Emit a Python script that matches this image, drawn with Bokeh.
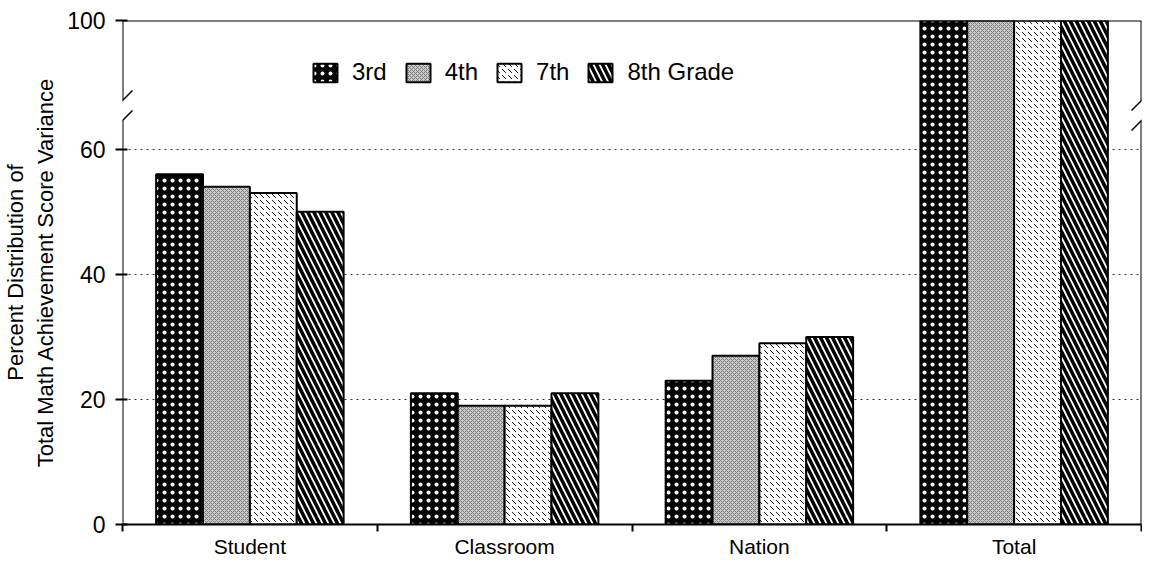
from bokeh.plotting import figure
from bokeh.models import FixedTicker, Legend, LegendItem, Arrow, Range1d
from bokeh.embed import file_html
from bokeh.resources import INLINE

# ---- data ----
categories = ["Student", "Classroom", "Nation", "Total"]
grades = ["3rd", "4th", "7th", "8th Grade"]
grade3 = [56, 21, 23, 100]
grade4 = [54, 19, 27, 100]
grade7 = [53, 19, 29, 100]
grade8 = [50, 21, 30, 100]
y_tick_values = [0, 20, 40, 60, 100]
grid_values = [20, 40, 60]

# ---- broken axis mapping: true scale up to 60, compressed above ----
BREAK_AT = 60
COMPRESS = 20.6 / 40.0


def pos(v):
    return v if v <= BREAK_AT else BREAK_AT + (v - BREAK_AT) * COMPRESS


TOP = pos(100)
GAP_LO, GAP_HI = 64.6, 67.8  # where the break slashes cross the axis
FONT = "Liberation Sans"

p = figure(width=1142, height=560, output_backend="svg", toolbar_location=None,
           x_range=Range1d(0, len(categories)), y_range=Range1d(0, TOP),
           min_border_left=120, min_border_right=1, min_border_top=20,
           min_border_bottom=34)
p.outline_line_color = None
p.background_fill_color = "white"
p.border_fill_color = "white"

series = [grade3, grade4, grade7, grade8]
styles = [
    dict(fill_color="black", hatch_pattern="dot", hatch_color="white",
         hatch_scale=8, hatch_weight=1),
    dict(fill_color="#c8c8c8", hatch_pattern="diagonal_cross", hatch_color="#808080",
         hatch_scale=4, hatch_weight=1),
    dict(fill_color="white", hatch_pattern="left_diagonal_dash", hatch_color="black",
         hatch_scale=6, hatch_weight=1),
    dict(fill_color="white", hatch_pattern="left_diagonal_line", hatch_color="black",
         hatch_scale=12, hatch_weight=3.5),
]
bw = 0.184
renderers = []
for i, (vals, st) in enumerate(zip(series, styles)):
    xs = [j + 0.5 + (i - 1.5) * bw for j in range(len(categories))]
    tops = [pos(v) for v in vals]
    r = p.vbar(x=xs, top=tops, bottom=0, width=bw, line_color="black",
               line_width=2, **st)
    renderers.append(r)

# ---- axes ----
yax = p.yaxis[0]
yax.ticker = FixedTicker(ticks=[pos(v) for v in y_tick_values])
yax.major_label_overrides = {pos(v): str(v) for v in y_tick_values}
yax.minor_tick_line_color = None
yax.major_tick_in = 5
yax.major_tick_out = 7
yax.major_tick_line_width = 2
yax.axis_line_color = None
yax.major_label_standoff = 10
yax.major_label_text_font = FONT
yax.major_label_text_font_size = "23px"
yax.major_label_text_color = "black"
yax.axis_label = "Percent Distribution of\nTotal Math Achievement Score Variance"
yax.axis_label_text_font = FONT
yax.axis_label_text_font_size = "22px"
yax.axis_label_text_font_style = "normal"
yax.axis_label_text_color = "black"
yax.axis_label_standoff = 6

xax = p.xaxis[0]
xax.ticker = FixedTicker(ticks=[j + 0.5 for j in range(len(categories))],
                         minor_ticks=list(range(len(categories) + 1)))
xax.major_label_overrides = {j + 0.5: c for j, c in enumerate(categories)}
xax.major_tick_in = 0
xax.major_tick_out = 0
xax.minor_tick_in = 0
xax.minor_tick_out = 7
xax.minor_tick_line_width = 2
xax.minor_tick_line_color = "black"
xax.axis_line_width = 2
xax.axis_line_color = "black"
xax.major_label_standoff = 3
xax.major_label_text_font = FONT
xax.major_label_text_font_size = "21px"
xax.major_label_text_color = "black"

p.xgrid.grid_line_color = None
p.ygrid.ticker = FixedTicker(ticks=grid_values)
p.ygrid.grid_line_color = "#333333"
p.ygrid.grid_line_dash = "dotted"
p.ygrid.grid_line_width = 1


# ---- frame lines with axis breaks ----
def seg(x0, y0, x1, y1, w=2):
    p.add_layout(Arrow(end=None, x_start=x0, y_start=y0, x_end=x1, y_end=y1,
                       line_color="black", line_width=w))


n = len(categories)
seg(0, 0, 0, GAP_LO)
seg(0, GAP_HI, 0, TOP)
seg(0, TOP, n, TOP)
seg(n, 0, n, GAP_LO)
seg(n, GAP_HI, n, TOP)
dx = 10 * n / 1021.0
dy = 10 * TOP / 506.0
for xc in (0, n):
    for yc in (GAP_LO, GAP_HI):
        seg(xc - dx, yc - dy, xc + dx, yc + dy, 1.5)

# ---- legend ----
legend = Legend(items=[LegendItem(label=g, renderers=[r]) for g, r in zip(grades, renderers)],
                orientation="horizontal", location=(188, 438),
                glyph_width=30, glyph_height=23, label_standoff=12, spacing=16,
                padding=0, margin=0, border_line_color=None,
                background_fill_alpha=0, label_text_font=FONT,
                label_text_font_size="24px", label_text_color="black")
p.add_layout(legend)

open("out.html", "w").write(file_html(p, INLINE))
